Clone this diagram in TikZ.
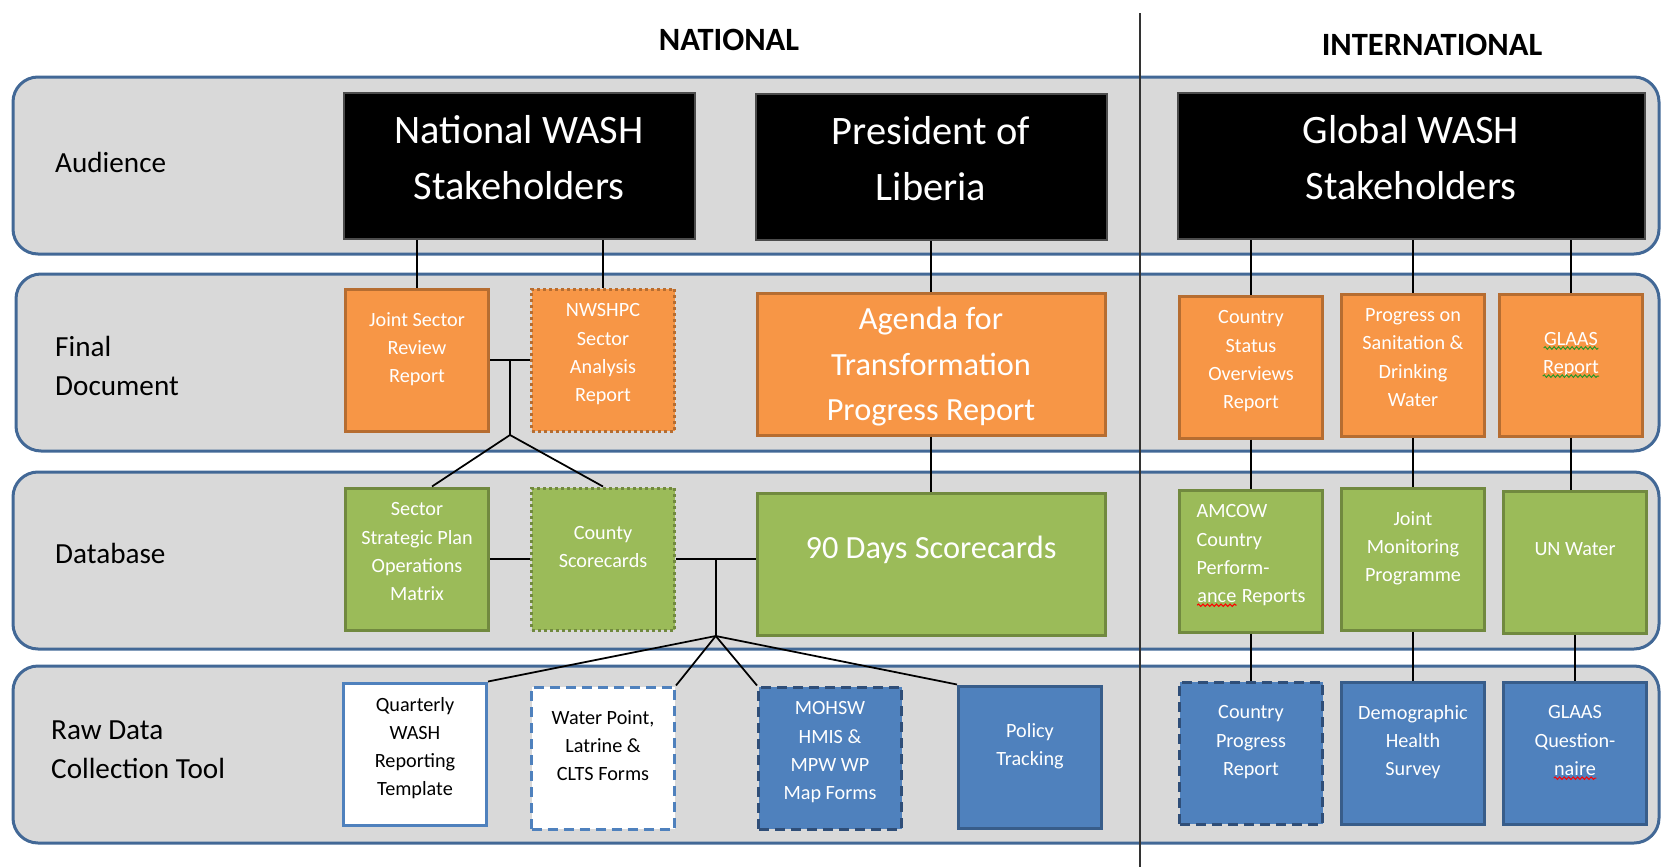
\documentclass[tikz,border=0pt]{standalone}
\usepackage{fontspec}
\setmainfont{Carlito}
\usetikzlibrary{calc,decorations.pathmorphing}

\definecolor{bandgray}{RGB}{217,217,217}
\definecolor{bandline}{RGB}{66,104,150}
\definecolor{docfill}{RGB}{247,150,70}
\definecolor{docline}{RGB}{182,109,49}
\definecolor{dbfill}{RGB}{155,187,89}
\definecolor{dbline}{RGB}{113,137,63}
\definecolor{rawfill}{RGB}{79,129,189}
\definecolor{rawline}{RGB}{56,93,138}
\definecolor{rawdark}{RGB}{47,78,120}
\definecolor{spellgreen}{RGB}{40,150,40}

% word with a spell-check wave under it
\newcommand{\wavyword}[2]{\tikz[baseline=(w.base)]{\node[rectangle, inner sep=0pt,
    minimum width=0pt, minimum height=0pt, text depth=, align=none,
    draw=none, fill=none] (w) {#2};
  \draw[#1, solid, line width=0.2mm, decorate, decoration={snake, amplitude=0.25mm, segment length=0.9mm}]
    ([yshift=-0.6mm]w.base west) -- ([yshift=-0.6mm]w.base east);}}

\begin{document}
\begin{tikzpicture}[x=0.2mm, y=-0.2mm, font=\fontsize{11.5}{16}\selectfont,
    band/.style={draw=bandline, line width=0.6mm, fill=bandgray, rounded corners=5mm},
    divider/.style={draw=black!80, line width=0.35mm},
    link/.style={draw=black, line width=0.35mm},
    head/.style={font=\bfseries\fontsize{18.5}{22}\selectfont},
    lane/.style={anchor=west, align=left, font=\fontsize{16.6}{22}\selectfont},
    box/.style={rectangle, align=center, text=white, line width=0.6mm,
      minimum width=28.6mm, minimum height=28.4mm, text depth=5mm},
    fourline/.style={text depth=3mm},
    wide/.style={minimum width=69.6mm, font=\fontsize{18.4}{26}\selectfont},
    audbox/.style={box, fill=black, draw=black!70, line width=0.4mm,
      minimum width=70.2mm, minimum height=29.2mm, text depth=3.5mm,
      font=\fontsize{23}{32}\selectfont},
    docbox/.style={box, fill=docfill, draw=docline},
    dbbox/.style={box, fill=dbfill, draw=dbline},
    rawbox/.style={box, fill=rawfill, draw=rawline},
    blankbox/.style={box, fill=white, draw=rawfill, text=black},
    dotline/.style={dash pattern=on 0.6mm off 0.6mm},
    longdash/.style={dash pattern=on 2mm off 1.2mm}]
  \useasboundingbox (0,0) rectangle (1663,867);

  % lanes
  \draw[band] (13,77) rectangle (1659,254);
  \draw[band] (16,274) rectangle (1659,451);
  \draw[band] (13,472) rectangle (1659,649);
  \draw[band] (13,666) rectangle (1659,843);
  \draw[divider] (1140,13) -- (1140,867);

  \node[head] (national) at (729,40) {NATIONAL};
  \node[head] (international) at (1432,45) {INTERNATIONAL};

  \node[lane] (audience) at (49,162) {Audience};
  \node[lane] (finaldoc) at (49,366) {Final\\Document};
  \node[lane] (database) at (49,553) {Database};
  \node[lane] (rawdata) at (45,750) {Raw Data\\Collection Tool};

  % audience
  \node[audbox] (natwash) at (519,166) {National WASH\\Stakeholders};
  \node[audbox] (president) at (931,167) {President of\\Liberia};
  \node[audbox, minimum width=93.4mm] (globalwash) at (1411,166) {Global WASH\\Stakeholders};

  % final documents
  \node[docbox] (jsr) at (417,360) {Joint Sector\\Review\\Report};
  \node[docbox, fourline, dotline] (nwshpc) at (603,360) {NWSHPC\\Sector\\Analysis\\Report};
  \node[docbox, wide, text depth=0mm] (agenda) at (931,364) {Agenda for\\Transformation\\Progress Report};
  \node[docbox, fourline] (cso) at (1251,367) {Country\\Status\\Overviews\\Report};
  \node[docbox, fourline] (psdw) at (1413,365) {Progress on\\Sanitation \&\\Drinking\\Water};
  \node[docbox] (glaasrep) at (1571,365) {\wavyword{spellgreen}{GLAAS}\\\wavyword{spellgreen}{Report}};

  % databases
  \node[dbbox, fourline] (sspom) at (417,559) {Sector\\Strategic Plan\\Operations\\Matrix};
  \node[dbbox, dotline] (county) at (603,559) {County\\Scorecards};
  \node[dbbox, wide, text depth=6.5mm] (days90) at (931,564) {90 Days Scorecards};
  \node[dbbox, fourline, align=left] (amcow) at (1251,561) {AMCOW\\Country\\Perform-\\\wavyword{red}{ance} Reports};
  \node[dbbox] (jmp) at (1413,559) {Joint\\Monitoring\\Programme};
  \node[dbbox] (unwater) at (1575,562) {UN Water};

  % raw data
  \node[blankbox, fourline] (qwrt) at (415,754) {Quarterly\\WASH\\Reporting\\Template};
  \node[blankbox, longdash] (wplf) at (603,758) {Water Point,\\Latrine \&\\CLTS Forms};
  \node[rawbox, fourline, draw=rawdark, longdash] (mohsw) at (830,758) {MOHSW\\HMIS \&\\MPW WP\\Map Forms};
  \node[rawbox] (policy) at (1030,757) {Policy\\Tracking};
  \node[rawbox, draw=rawdark, longdash] (cpr) at (1251,753) {Country\\Progress\\Report};
  \node[rawbox] (dhs) at (1413,753) {Demographic\\Health\\Survey};
  \node[rawbox] (glaasq) at (1575,753) {GLAAS\\Question-\\\wavyword{red}{naire}};

  % links national
  \draw[link] (natwash.south -| jsr.north) -- (jsr.north);
  \draw[link] (natwash.south -| nwshpc.north) -- (nwshpc.north);
  \draw[link] (president) -- (agenda);
  \draw[link] (jsr.east) -- (nwshpc.west);
  \coordinate (docsplit) at ($(jsr.east)!0.5!(nwshpc.west)$);
  \coordinate (docfork) at ($(docsplit)+(0,75)$);
  \draw[link] (docsplit) -- (docfork);
  \draw[link] (docfork) -- ($(sspom.north)+(15,0)$);
  \draw[link] (docfork) -- (county.north);
  \draw[link] (agenda) -- (days90);
  \draw[link] (sspom.east) -- (county.west);
  \draw[link] (county.east) -- (county.east -| days90.west);
  \coordinate (dbfork) at ($(county.east)!0.5!(county.east -| days90.west)$);
  \coordinate (rawfork) at ($(dbfork)+(0,77)$);
  \draw[link] (dbfork) -- (rawfork);
  \draw[link] (rawfork) -- (qwrt.north east);
  \draw[link] (rawfork) -- (wplf.north east);
  \draw[link] (rawfork) -- (mohsw.north west);
  \draw[link] (rawfork) -- (policy.north west);

  % links international
  \draw[link] (globalwash.south -| cso.north) -- (cso.north);
  \draw[link] (globalwash.south -| psdw.north) -- (psdw.north);
  \draw[link] (globalwash.south -| glaasrep.north) -- (glaasrep.north);
  \draw[link] (cso) -- (amcow);
  \draw[link] (amcow) -- (cpr);
  \draw[link] (psdw) -- (jmp);
  \draw[link] (jmp) -- (dhs);
  \draw[link] (glaasrep.south) -- (glaasrep.south |- unwater.north);
  \draw[link] (unwater.south) -- (unwater.south |- glaasq.north);
\end{tikzpicture}
\end{document}
